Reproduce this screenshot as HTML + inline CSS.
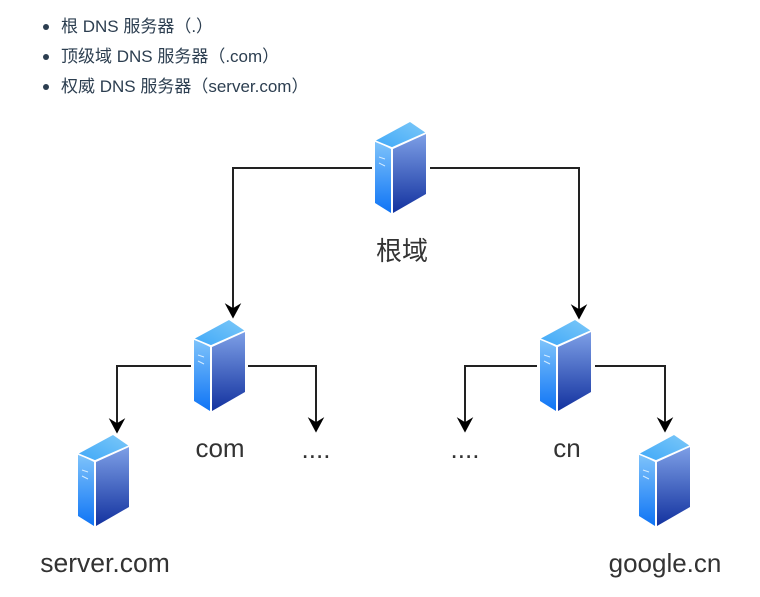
<!DOCTYPE html>
<html lang="zh"><head><meta charset="utf-8">
<style>
html,body{margin:0;padding:0;background:#fff;width:760px;height:597px;overflow:hidden}
ul{position:absolute;left:0;top:12px;margin:0;padding:0 0 0 61px;list-style:none;font:17px/30px "Liberation Sans","Noto Sans CJK SC",sans-serif;color:#2c3e50}
li{position:relative;white-space:nowrap;height:30px}
li:before{content:"";position:absolute;left:-18px;top:12px;width:6px;height:6px;border-radius:50%;background:#2c3e50}
svg{position:absolute;left:0;top:0}
text{font-family:"Liberation Sans","Noto Sans CJK SC",sans-serif;fill:#333;text-anchor:middle}
</style></head><body>
<ul><li>根 DNS 服务器（.）</li><li>顶级域 DNS 服务器（.com）</li><li>权威 DNS 服务器（server.com）</li></ul>
<svg width="760" height="597" viewBox="0 0 760 597">
<defs>
<linearGradient id="a" x1="0" y1="0" x2="0" y2="1"><stop offset="0" stop-color="#7fc4fb"/><stop offset="1" stop-color="#0f74f5"/></linearGradient>
<linearGradient id="b" x1="0" y1="0" x2="0" y2="1"><stop offset="0" stop-color="#7d9fe6"/><stop offset="1" stop-color="#13329f"/></linearGradient>
<linearGradient id="c" x1="0" y1="1" x2="1" y2="0"><stop offset="0" stop-color="#3fa8f8"/><stop offset="1" stop-color="#7cc8f8"/></linearGradient>
<g id="s">
<path d="M0 19 35 0 51 11 17 26Z" fill="url(#c)"/>
<path d="M0 19 16 27V91L0 81Z" fill="url(#a)"/>
<path d="M18 27 51 12V72L18 91Z" fill="url(#b)"/>
<path d="M0 19 17 26 51 11" fill="none" stroke="#fff" stroke-width="1.6"/>
<path d="M17 26V91" stroke="#fff" stroke-width="2"/>
<path d="M4 35 10 37M4 41 10 44" stroke="#d5ecff" stroke-width="1"/>
</g>
<path id="h" d="M0 0-7.5-14-0-9.5 7.5-14Z" fill="#000" stroke="#000" stroke-width=".6"/>
</defs>
<g fill="none" stroke="#222" stroke-width="2">
<path d="M372 168H233V310"/><path d="M430 168H579V311"/>
<path d="M191 366H117V425"/><path d="M248 366H316V424"/>
<path d="M537 366H465V424"/><path d="M595 366H665V424"/>
</g>
<use href="#h" x="233" y="318"/><use href="#h" x="579" y="319"/>
<use href="#h" x="117" y="433"/><use href="#h" x="316" y="432"/>
<use href="#h" x="465" y="432"/><use href="#h" x="665" y="432"/>
<use href="#s" x="375" y="122"/><use href="#s" x="194" y="320"/><use href="#s" x="540" y="320"/>
<use href="#s" x="78" y="435"/><use href="#s" x="639" y="435"/>
<text x="402" y="260" font-size="26">根域</text>
<text x="220" y="457" font-size="26">com</text>
<text x="316" y="458" font-size="26">....</text>
<text x="465" y="458" font-size="26">....</text>
<text x="567" y="457" font-size="26">cn</text>
<text x="105" y="572" font-size="26.5">server.com</text>
<text x="665" y="572" font-size="26">google.cn</text>
</svg>
</body></html>
